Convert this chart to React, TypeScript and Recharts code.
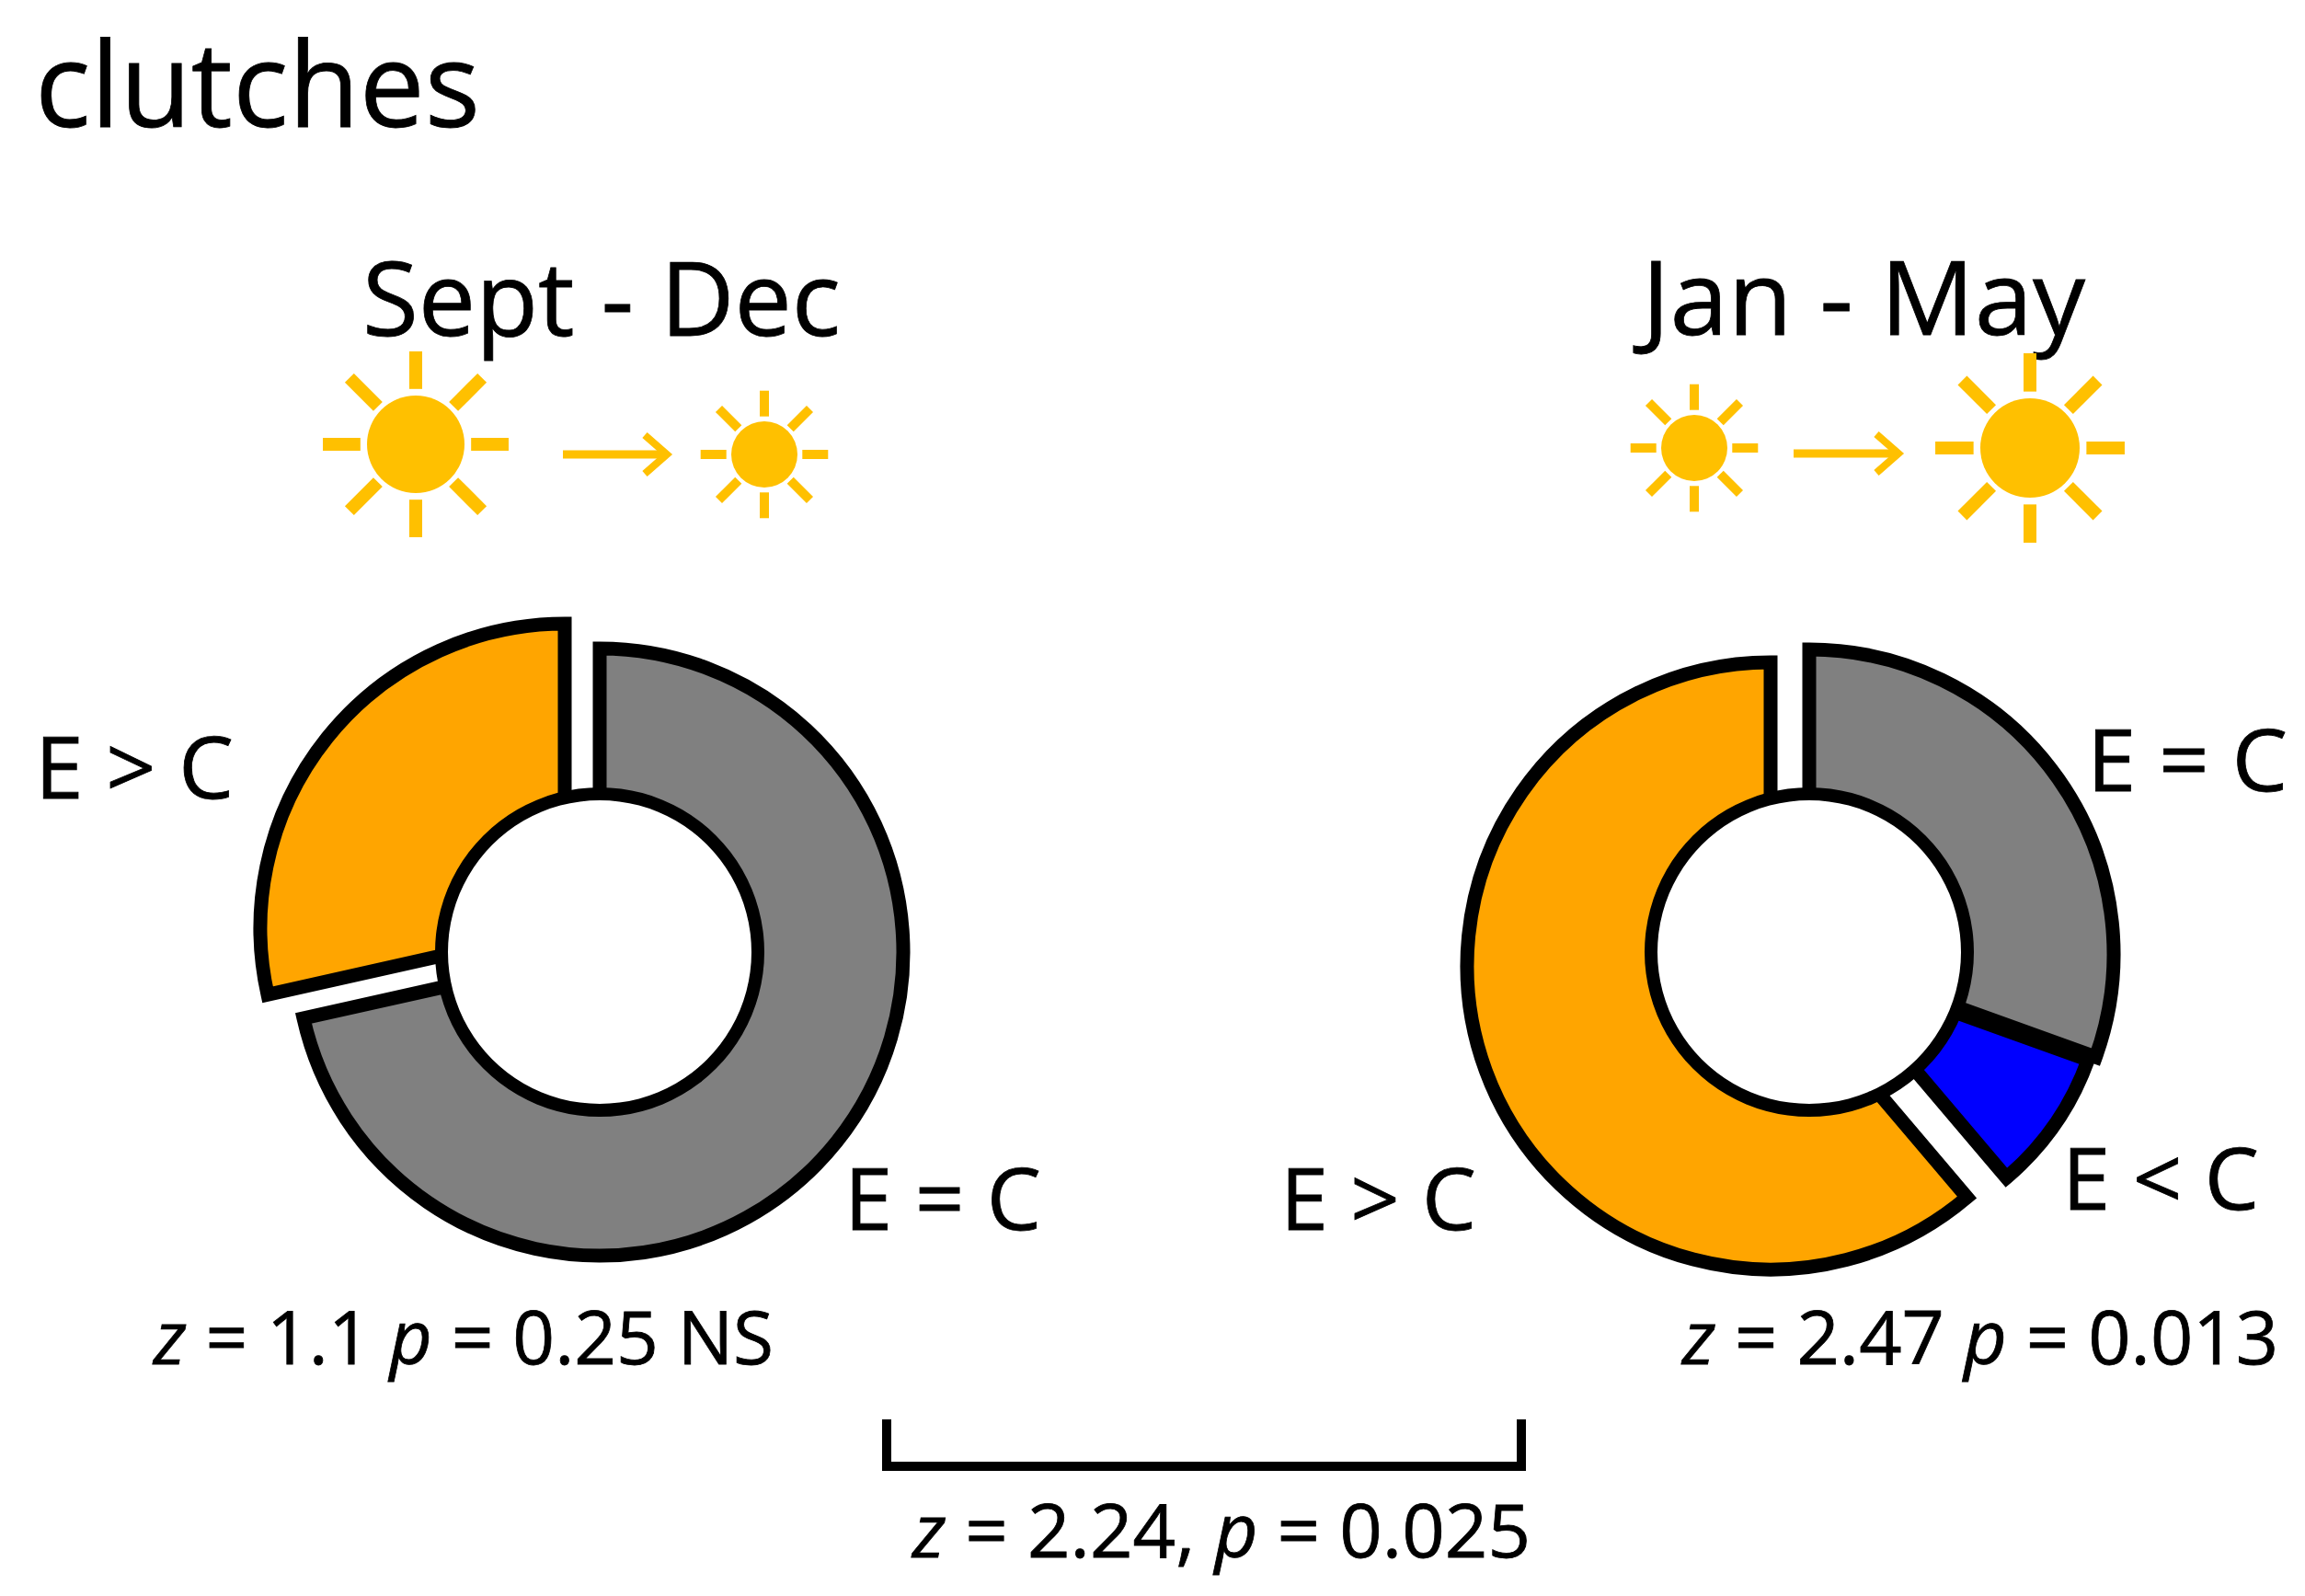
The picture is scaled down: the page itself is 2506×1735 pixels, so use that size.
import { PieChart, Pie, Cell } from "recharts";

const leftCategories = ["E = C", "E > C"];
const leftValues = [71.5, 28.5];
const rightCategories = ["E = C", "E < C", "E > C"];
const rightValues = [30.5, 8.3, 61.2];
const sliceColors: Record<string, string> = { "E = C": "#808080", "E > C": "#FFA500", "E < C": "#0000FF" };
const panelTitles = ["Sept - Dec", "Jan - May"];

const leftData = leftCategories.map((name, i) => ({ name, value: leftValues[i] }));
const rightData = rightCategories.map((name, i) => ({ name, value: rightValues[i] }));
const holeData = [{ name: "hole", value: 1 }];

const FONT = "'Open Sans', sans-serif";
const SUN = "#FFC000";
const DIAGONALS = [1, 3, 5, 7];
const STRAIGHTS = [0, 2, 4, 6];

// draws one ring slice only, the other slices stay invisible so the angles still come from the data
const Slice = ({ data, show, cx, cy, inner, outer }: any) => (
  <Pie
    data={data}
    dataKey="value"
    cx={cx}
    cy={cy}
    innerRadius={inner}
    outerRadius={outer}
    startAngle={90}
    endAngle={-270}
    isAnimationActive={false}
    stroke="none"
  >
    {data.map((d: any) => (
      <Cell
        key={d.name}
        fill={d.name === show ? sliceColors[d.name] : "none"}
        stroke={d.name === show ? "#000" : "none"}
        strokeWidth={15}
      />
    ))}
  </Pie>
);

const Hole = ({ cx, cy }: any) => (
  <>
    <Pie data={holeData} dataKey="value" cx={cx} cy={cy} innerRadius={0} outerRadius={172} isAnimationActive={false} fill="#fff" stroke="none" />
    <Pie data={holeData} dataKey="value" cx={cx} cy={cy} innerRadius={165} outerRadius={179} isAnimationActive={false} fill="#000" stroke="none" />
  </>
);

const Sun = ({ x, y, r, ray, width }: any) => (
  <g>
    <circle cx={x} cy={y} r={r} fill={SUN} />
    {STRAIGHTS.map((k) => {
      const a = (k * Math.PI) / 4;
      return (
        <line key={k} x1={x + Math.cos(a) * ray * 1.18} y1={y + Math.sin(a) * ray * 1.18} x2={x + Math.cos(a) * ray * 1.98} y2={y + Math.sin(a) * ray * 1.98} stroke={SUN} strokeWidth={width} />
      );
    })}
    {DIAGONALS.map((k) => {
      const a = (k * Math.PI) / 4;
      return (
        <line key={k} x1={x + Math.cos(a) * ray * 1.14} y1={y + Math.sin(a) * ray * 1.14} x2={x + Math.cos(a) * ray * 2.0} y2={y + Math.sin(a) * ray * 2.0} stroke={SUN} strokeWidth={width} />
      );
    })}
  </g>
);

const Arrow = ({ x1, x2, y }: any) => (
  <g stroke={SUN} fill="none">
    <line x1={x1} y1={y} x2={x2} y2={y} strokeWidth={9} />
    <polyline points={`${x2 - 24},${y - 21} ${x2},${y} ${x2 - 24},${y + 21}`} strokeWidth={8} />
  </g>
);

const Txt = ({ x, y, w, size, children }: any) => (
  <text x={x} y={y} fontFamily={FONT} fontSize={size} fill="#000" stroke="#000" strokeWidth={0.8} textLength={w} lengthAdjust="spacingAndGlyphs">
    {children}
  </text>
);

const Stat = ({ x, y, w, z, p, tail }: any) => (
  <Txt x={x} y={y} w={w} size={80}>
    <tspan fontStyle="italic">z</tspan>
    {` = ${z} `}
    <tspan fontStyle="italic">p</tspan>
    {` = ${p}${tail ?? ""}`}
  </Txt>
);

export default function App() {
  return (
    <div style={{ position: "absolute", left: 0, top: 0, width: 2506, height: 1735, background: "#fff" }}>
      <PieChart width={2506} height={1735} margin={{ top: 0, right: 0, bottom: 0, left: 0 }}>
        <Slice data={leftData} show="E = C" cx={652} cy={1035} inner={100} outer={330} />
        <Slice data={leftData} show="E > C" cx={614} cy={1009} inner={100} outer={331} />
        <Hole cx={652} cy={1035} />

        <Slice data={rightData} show="E = C" cx={1967} cy={1037} inner={100} outer={331} />
        <Slice data={rightData} show="E < C" cx={1986} cy={1050} inner={60} outer={302} />
        <Slice data={rightData} show="E > C" cx={1925} cy={1050} inner={100} outer={330} />
        <Hole cx={1967} cy={1035} />

        <Txt x={38} y={138} w={484} size={128}>clutches</Txt>
        <Txt x={394} y={365} w={520} size={112}>{panelTitles[0]}</Txt>
        <Txt x={1785} y={364} w={482} size={112}>{panelTitles[1]}</Txt>

        <Sun x={452} y={483} r={53} ray={51} width={14} />
        <Arrow x1={612} x2={725} y={494} />
        <Sun x={831} y={494} r={36} ray={35} width={10} />
        <Sun x={1842} y={487} r={36} ray={35} width={10} />
        <Arrow x1={1950} x2={2064} y={493} />
        <Sun x={2207} y={487} r={54} ray={52} width={14} />

        <Txt x={38} y={868} w={216} size={94}>{leftCategories[1]}</Txt>
        <Txt x={918} y={1337} w={214} size={94}>{leftCategories[0]}</Txt>
        <Txt x={1392} y={1337} w={213} size={94}>{rightCategories[2]}</Txt>
        <Txt x={2269} y={860} w={218} size={94}>{rightCategories[0]}</Txt>
        <Txt x={2242} y={1315} w={214} size={94}>{rightCategories[1]}</Txt>

        <Stat x={167} y={1483} w={674} z="1.1" p="0.25" tail=" NS" />
        <Stat x={1829} y={1483} w={648} z="2.47" p="0.013" />
        <Txt x={992} y={1693} w={672} size={80}>
          <tspan fontStyle="italic">z</tspan>
          {" = 2.24, "}
          <tspan fontStyle="italic">p</tspan>
          {" = 0.025"}
        </Txt>

        <polyline points="964,1543 964,1594 1654,1594 1654,1543" fill="none" stroke="#000" strokeWidth={10} />
      </PieChart>
    </div>
  );
}
